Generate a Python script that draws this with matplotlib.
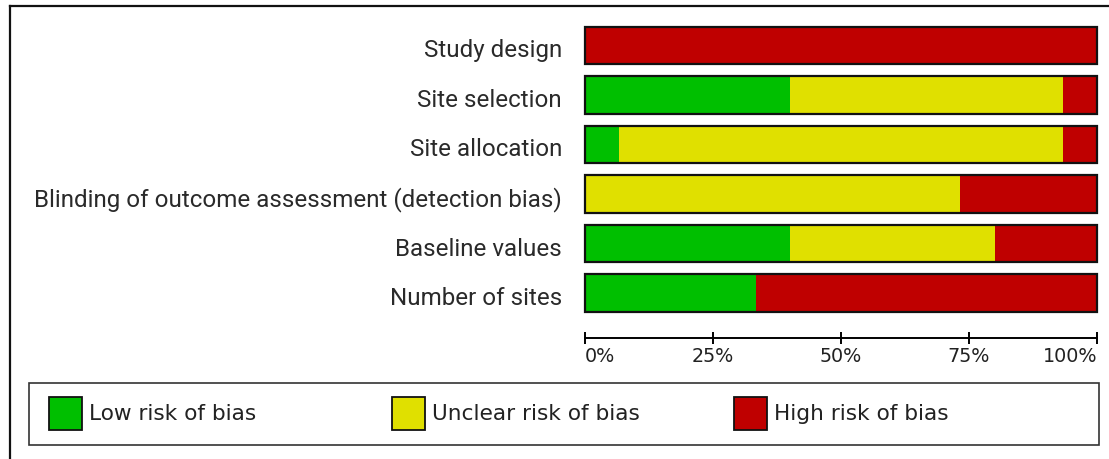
import numpy as np
import matplotlib.pyplot as plt
from matplotlib.patches import Rectangle
from matplotlib.lines import Line2D
from matplotlib.transforms import ScaledTranslation

domains = ["Study design", "Site selection", "Site allocation",
           "Blinding of outcome assessment (detection bias)",
           "Baseline values", "Number of sites"]
# study counts per judgement (15 studies)
low = [0, 6, 1, 0, 6, 5]
unclear = [0, 8, 13, 11, 6, 0]
high = [15, 1, 1, 4, 3, 10]
legend_labels = ["Low risk of bias", "Unclear risk of bias", "High risk of bias"]
tick_vals = [0, 25, 50, 75, 100]
colors = ["#00bf00", "#e0e000", "#bf0000"]

W, H = 1109, 459
fig = plt.figure(figsize=(W / 100, H / 100), dpi=100)


def fx(px):
    return px / W


def fy(py):
    return 1 - py / H


ax = fig.add_axes([fx(585), fy(317.75), (1097 - 585) / W, (317.75 - 20.75) / H])

counts = np.array([low, unclear, high], dtype=float)
pct = 100 * counts / counts.sum(axis=0)
y = np.arange(len(domains))
left = np.zeros(len(domains))
for p, c in zip(pct, colors):
    ax.barh(y, p, left=left, height=0.75, color=c, linewidth=0)
    left += p
ax.barh(y, left, height=0.75, fill=False, edgecolor="#111111",
        linewidth=1.6, clip_on=False)

ax.set_xlim(0, 100)
ax.set_ylim(len(domains) - 0.5, -0.5)
ax.set_yticks(y, domains, fontfamily="Roboto", fontsize=17.4, color="#2a2a2a")
ax.tick_params(axis="y", length=0, pad=16.5)
shift = ScaledTranslation(0, -3 / 100, fig.dpi_scale_trans)
for t in ax.get_yticklabels():
    t.set_transform(t.get_transform() + shift)

for s in ["left", "right", "top"]:
    ax.spines[s].set_visible(False)
ax.spines["bottom"].set_position(("outward", 14.6))
ax.spines["bottom"].set_linewidth(1.4)
ax.set_xticks(tick_vals, [f"{v}%" for v in tick_vals],
              fontfamily="DejaVu Sans", fontsize=13.8, color="#222222")
ax.tick_params(axis="x", direction="inout", length=8.6, width=1.4, pad=2.5)
xl = ax.get_xticklabels()
xl[0].set_ha("left")
xl[-1].set_ha("right")

# outer frame (top and left edges only)
fig.add_artist(Line2D([fx(10), fx(1109)], [fy(6), fy(6)], color="#111111", lw=1.6))
fig.add_artist(Line2D([fx(10), fx(10)], [fy(6), fy(459)], color="#111111", lw=1.6))

# legend box
fig.add_artist(Rectangle((fx(29), fy(445)), (1099 - 29) / W, (445 - 383) / H,
                         fill=False, edgecolor="#333333", lw=1.2))
sw_x = [49, 392, 734]
for x0, lab, c in zip(sw_x, legend_labels, colors):
    fig.add_artist(Rectangle((fx(x0), fy(430)), 33 / W, 33 / H,
                             facecolor=c, edgecolor="#111111", lw=1.3))
    fig.text(fx(x0 + 40), fy(413.5), lab, fontfamily="DejaVu Sans",
             fontsize=15.6, color="#222222", va="center", ha="left")

fig.savefig("out.png", dpi=100, facecolor="white")
